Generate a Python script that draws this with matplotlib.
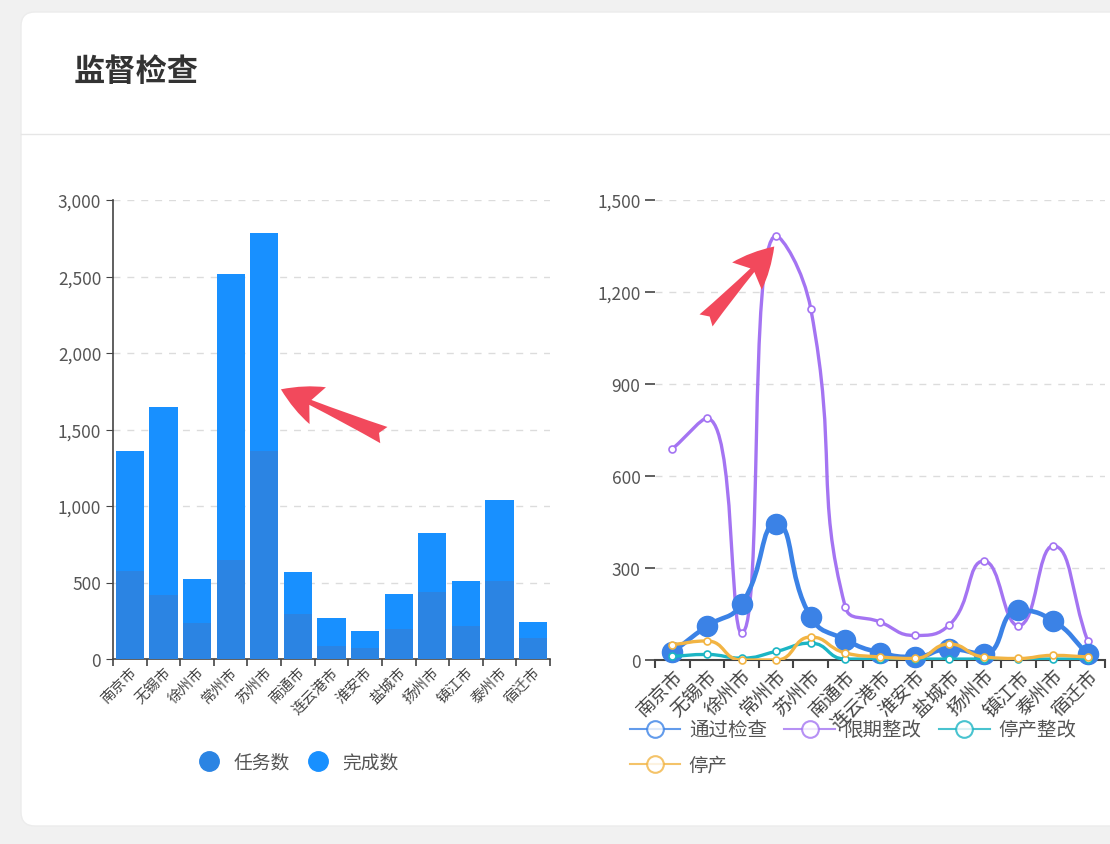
import numpy as np
import matplotlib
matplotlib.use("Agg")
import matplotlib.pyplot as plt
from matplotlib.path import Path
from matplotlib.patches import PathPatch, FancyBboxPatch
from matplotlib.lines import Line2D
from matplotlib.ticker import FuncFormatter, FixedLocator
from matplotlib.transforms import IdentityTransform

plt.rcParams['font.family'] = ['Noto Sans CJK SC', 'DejaVu Sans']

cities = ["南京市", "无锡市", "徐州市", "常州市", "苏州市", "南通市", "连云港市",
          "淮安市", "盐城市", "扬州市", "镇江市", "泰州市", "宿迁市"]

# left chart
task_count = [575, 420, 238, 650, 1360, 295, 85, 73, 196, 440, 216, 510, 138]
done_count = [1360, 1650, 523, 2518, 2786, 570, 268, 183, 425, 825, 512, 1040, 243]

# right chart
passed = [25, 110, 182, 445, 140, 66, 24, 10, 36, 20, 162, 128, 20]
rectify = [688, 788, 88, 1383, 1145, 172, 124, 80, 114, 323, 112, 372, 62]
stop_rectify = [12, 18, 6, 28, 55, 3, 3, 3, 3, 3, 3, 3, 3]
stopped = [50, 62, 0, 0, 75, 23, 10, 5, 52, 10, 5, 15, 10]

W, H = 1110, 845
fig = plt.figure(figsize=(W / 100, H / 100), dpi=100)
fig.patch.set_facecolor("#f1f1f1")

card = FancyBboxPatch((21, H - 827), 1130, 814, boxstyle="round,pad=0,rounding_size=14",
                      facecolor="white", edgecolor="#ececec", linewidth=1,
                      transform=IdentityTransform(), zorder=0)
fig.add_artist(card)
fig.add_artist(Line2D([21, W], [H - 135, H - 135], color="#e6e6e6", linewidth=1,
                      transform=IdentityTransform()))
fig.text(74 / W, 1 - 72 / H, "监督检查", fontsize=22.5, fontweight="bold",
         color="#333333", va="center", ha="left")

thousands = FuncFormatter(lambda v, p: f"{int(v):,}")
grid_kw = dict(color="#dcdcdc", linestyle=(0, (5, 5)), linewidth=1)
arrow_kw = dict(arrowstyle="fancy,head_length=0.5,head_width=0.5,tail_width=0.22",
                mutation_scale=58, color="#f2495c", lw=0)


def smooth_path(ax, xs, ys, smooth=0.5):
    # echarts-like smoothed polyline, control points computed in pixels
    pts = ax.transData.transform(np.column_stack([xs, ys]).astype(float))
    n = len(pts)
    cp_in, cp_out = [None] * n, [None] * n
    for i in range(n):
        x, y = pts[i]
        px, py = pts[i - 1] if i > 0 else pts[i]
        nx, ny = pts[i + 1] if i < n - 1 else pts[i]
        vx, vy = nx - px, ny - py
        l0 = np.hypot(x - px, y - py)
        l1 = np.hypot(nx - x, ny - y)
        r = l1 / (l0 + l1) if l0 + l1 > 0 else 0.5
        ncx = np.clip(x + vx * smooth * r, min(nx, x), max(nx, x))
        ncy = np.clip(y + vy * smooth * r, min(ny, y), max(ny, y))
        if l1 > 0:
            cx = x - (ncx - x) * l0 / l1
            cy = y - (ncy - y) * l0 / l1
        else:
            cx = x - vx * smooth * (1 - r)
            cy = y - vy * smooth * (1 - r)
        cx = np.clip(cx, min(px, x), max(px, x))
        cy = np.clip(cy, min(py, y), max(py, y))
        if l0 > 0:
            ncx = x + (x - cx) * l1 / l0
            ncy = y + (y - cy) * l1 / l0
        cp_in[i], cp_out[i] = (cx, cy), (ncx, ncy)
    verts = [pts[0]]
    codes = [Path.MOVETO]
    for i in range(n - 1):
        verts += [cp_out[i], cp_in[i + 1], pts[i + 1]]
        codes += [Path.CURVE4] * 3
    verts = ax.transData.inverted().transform(np.array(verts))
    return Path(verts, codes)


# ---------------- left: bars ----------------
ax1 = fig.add_axes([113 / W, 1 - 660 / H, 437 / W, 459 / H])
ax1.set_xlim(-0.5, len(cities) - 0.5)
ax1.set_ylim(0, 3000)
x = np.arange(len(cities))
ax1.bar(x, done_count, width=0.84, color="#1890ff", zorder=2)
ax1.bar(x, task_count, width=0.84, color="#2b84e3", zorder=3)
ax1.yaxis.set_major_locator(FixedLocator([0, 500, 1000, 1500, 2000, 2500, 3000]))
ax1.yaxis.set_major_formatter(thousands)
ax1.grid(axis="y", **grid_kw)
ax1.set_axisbelow(True)
for s in ["top", "right"]:
    ax1.spines[s].set_visible(False)
for s in ["left", "bottom"]:
    ax1.spines[s].set_color("#444444")
    ax1.spines[s].set_linewidth(1.2)
ax1.tick_params(axis="y", labelsize=12.5, labelcolor="#555555", color="#444444", length=5)
ax1.set_xticks(x)
ax1.set_xticklabels(cities, rotation=45, ha="right", rotation_mode="anchor",
                    fontsize=10.5, color="#444444")
ax1.tick_params(axis="x", which="major", length=0, pad=4)
ax1.set_xticks(np.arange(-0.5, len(cities)), minor=True)
ax1.tick_params(axis="x", which="minor", length=5, color="#444444", width=1.2)

h1 = [Line2D([], [], marker="o", linestyle="none", markersize=14,
             markerfacecolor="#2b84e3", markeredgecolor="#2b84e3"),
      Line2D([], [], marker="o", linestyle="none", markersize=14,
             markerfacecolor="#1890ff", markeredgecolor="#1890ff")]
fig.legend(h1, ["任务数", "完成数"], loc="center", bbox_to_anchor=(296 / W, 1 - 763 / H),
           ncol=2, frameon=False, fontsize=13.5, labelcolor="#555555",
           handlelength=1.6, handletextpad=0.5, columnspacing=0.7)

ax1.annotate("", xy=(4.42, 1770), xytext=(108, -48), textcoords="offset pixels",
             arrowprops=arrow_kw)

# ---------------- right: lines ----------------
ax2 = fig.add_axes([655 / W, 1 - 661 / H, 450 / W, 460 / H])
ax2.set_xlim(-0.5, len(cities) - 0.5)
ax2.set_ylim(0, 1500)
ax2.yaxis.set_major_locator(FixedLocator([0, 300, 600, 900, 1200, 1500]))
ax2.yaxis.set_major_formatter(thousands)
ax2.grid(axis="y", **grid_kw)
ax2.set_axisbelow(True)
for s in ["top", "right", "left"]:
    ax2.spines[s].set_visible(False)
ax2.spines["bottom"].set_color("#444444")
ax2.spines["bottom"].set_linewidth(1.5)
ax2.tick_params(axis="y", labelsize=12.5, labelcolor="#555555", color="#444444",
                length=7, width=1.2)
ax2.set_xticks(x)
ax2.set_xticklabels(cities, rotation=45, ha="right", rotation_mode="anchor",
                    fontsize=13.5, color="#444444")
ax2.tick_params(axis="x", which="major", length=0, pad=4)
ax2.set_xticks(np.arange(-0.5, len(cities)), minor=True)
ax2.tick_params(axis="x", which="minor", length=6, color="#444444", width=1.5)

C_PASS, C_RECT, C_STOPR, C_STOP = "#3b82e6", "#a474f2", "#1bb5c4", "#f2b443"

series = [
    (rectify, C_RECT, 2.4, "small", 2),
    (passed, C_PASS, 3.3, "big", 3),
    (stop_rectify, C_STOPR, 2.4, "small", 4),
    (stopped, C_STOP, 2.4, "small", 5),
]
for vals, col, lw, mk, z in series:
    ax2.add_patch(PathPatch(smooth_path(ax2, x, vals), fill=False, edgecolor=col,
                            linewidth=lw, zorder=z, clip_on=True))
    if mk == "big":
        ax2.plot(x, vals, "o", color=col, markersize=14.5, zorder=z, clip_on=False)
    else:
        ax2.plot(x, vals, "o", markerfacecolor="white", markeredgecolor=col,
                 markeredgewidth=1.2, markersize=5, zorder=z + 0.5, clip_on=False)

ax2.annotate("", xy=(3, 1355), xytext=(-72, -78), textcoords="offset pixels",
             arrowprops=arrow_kw, zorder=10)

# legend fills column by column, so order the handles to read row by row
leg_cols = [C_PASS, C_STOP, C_RECT, C_STOPR]
leg_names = ["通过检查", "停产", "限期整改", "停产整改"]
h2 = [Line2D([], [], color=c, linewidth=1.5, marker="o", markersize=12,
             markerfacecolor="white", markeredgecolor=c, markeredgewidth=1.5, alpha=0.8)
      for c in leg_cols]
fig.legend(h2, leg_names, loc="upper left",
           bbox_to_anchor=(612 / W, 1 - 703 / H), ncol=3, frameon=False, fontsize=14,
           labelcolor="#555555", handlelength=2.6, handletextpad=0.45,
           columnspacing=0.9, labelspacing=0.75)

fig.savefig("out.png", dpi=100)
